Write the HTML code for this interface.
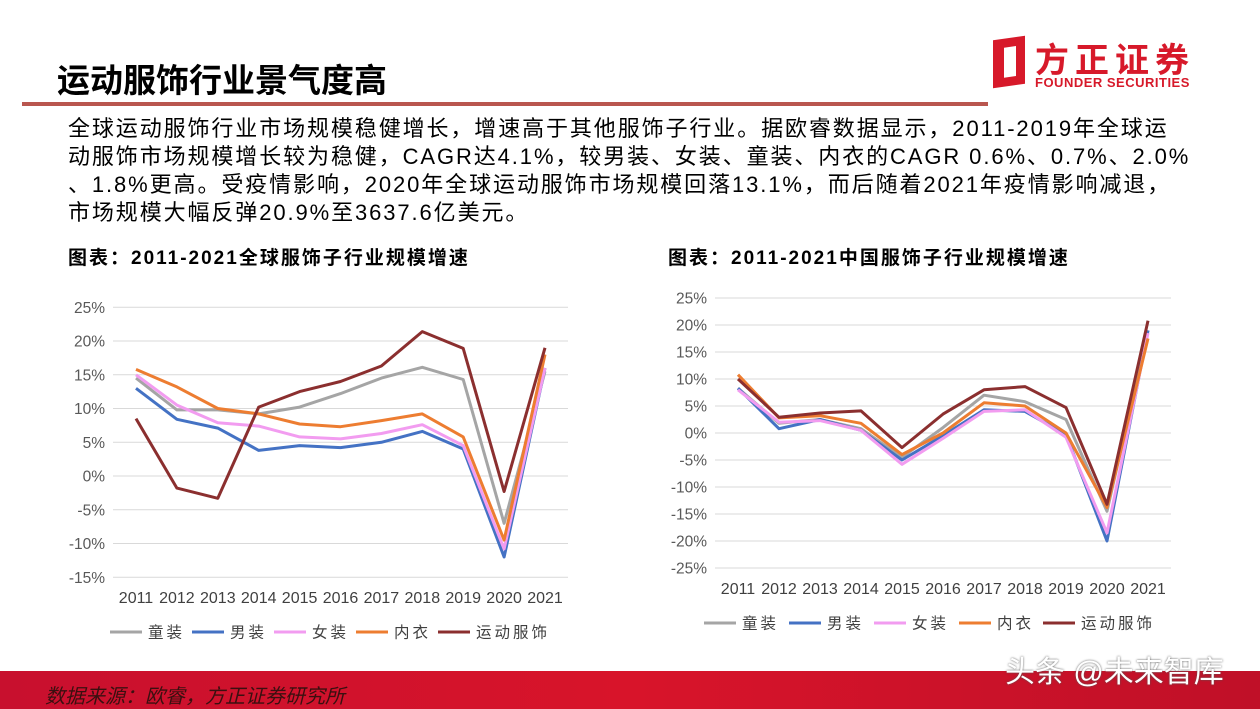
<!DOCTYPE html>
<html><head><meta charset="utf-8"><style>
body{margin:0;width:1260px;height:709px;overflow:hidden;background:#fff;font-family:"Liberation Sans","Noto Sans CJK SC",sans-serif;position:relative}
.t{position:absolute;white-space:nowrap}
</style></head><body>
<div class="t" style="left:57px;top:54px;font-size:33px;font-weight:bold;color:#000;letter-spacing:0px">运动服饰行业景气度高</div>
<div style="position:absolute;left:22px;top:102px;width:966px;height:4px;background:#b9564f"></div>
<div style="position:absolute;left:993px;top:38px;width:32px;height:48px;border:9px solid #d7192a;border-left-width:11px;box-sizing:border-box;transform:skewY(-8deg)"></div>
<div class="t" style="left:1035px;top:33px;font-size:34px;letter-spacing:6px;font-weight:bold;color:#d7192a">方正证券</div>
<div class="t" style="left:1035px;top:75px;font-size:13px;letter-spacing:0.5px;font-weight:bold;color:#d7192a">FOUNDER SECURITIES</div>
<div class="t" style="left:68px;top:115px;font-size:22px;letter-spacing:1.9px;line-height:28px;color:#000">全球运动服饰行业市场规模稳健增长，增速高于其他服饰子行业。据欧睿数据显示，2011-2019年全球运<br>动服饰市场规模增长较为稳健，CAGR达4.1%，较男装、女装、童装、内衣的CAGR 0.6%、0.7%、2.0%<br>、1.8%更高。受疫情影响，2020年全球运动服饰市场规模回落13.1%，而后随着2021年疫情影响减退，<br>市场规模大幅反弹20.9%至3637.6亿美元。</div>
<div class="t" style="left:68px;top:243px;font-size:19px;letter-spacing:2px;font-weight:bold">图表：2011-2021全球服饰子行业规模增速</div>
<div class="t" style="left:668px;top:243px;font-size:19px;letter-spacing:2px;font-weight:bold">图表：2011-2021中国服饰子行业规模增速</div>
<svg id="s" width="1260" height="709" style="position:absolute;left:0;top:0" font-family="Liberation Sans, Noto Sans CJK SC, sans-serif"></svg>
<div style="position:absolute;left:0;top:671px;width:1260px;height:38px;background:linear-gradient(90deg,#c8102e,#d8142a 50%,#c01028)"></div>
<div class="t" style="left:45px;top:680px;font-size:20px;font-style:italic;color:#3a1010">数据来源：欧睿，方正证券研究所</div>
<div class="t" style="left:1005px;top:647px;font-size:30px;color:#fff;text-shadow:0 0 2px #555">头条 @未来智库</div>
<script>
var s=document.getElementById('s'),h='';
var cols=['#a5a5a5','#4472c4','#f29cf0','#ed7d31','#8b2f2f'],names=['童装','男装','女装','内衣','运动服饰'];
function chart(x0,x1,gx0,gx1,y0,ppp,ticks,data,ly,lx){
 ticks.forEach(function(t){var y=y0-t*ppp;h+='<line x1="'+gx0+'" x2="'+gx1+'" y1="'+y+'" y2="'+y+'" stroke="#d9d9d9" stroke-width="1"/>';
 h+='<text x="'+(gx0-8)+'" y="'+(y+5.5)+'" font-size="15.5" fill="#595959" text-anchor="end">'+t+'%</text>';});
 var st=(x1-x0)/10;
 for(var i=0;i<11;i++)h+='<text x="'+(x0+i*st)+'" y="'+(ticks.length>9?594:603)+'" font-size="16" fill="#404040" text-anchor="middle">'+(2011+i)+'</text>';
 data.forEach(function(d,k){var p=d.map(function(v,i){return (x0+i*st).toFixed(1)+','+(y0-v*ppp).toFixed(1)}).join(' ');
 h+='<polyline points="'+p+'" fill="none" stroke="'+cols[k]+'" stroke-width="3" stroke-linejoin="round"/>';});
 names.forEach(function(n,k){var x=lx[k];h+='<line x1="'+x+'" x2="'+(x+32)+'" y1="'+ly+'" y2="'+ly+'" stroke="'+cols[k]+'" stroke-width="3"/>';
 h+='<text x="'+(x+38)+'" y="'+(ly+5.5)+'" font-size="15.5" fill="#404040" letter-spacing="3">'+n+'</text>';});
}
chart(136,545,113,568,476,6.75,[25,20,15,10,5,0,-5,-10,-15],[
[14.5,9.8,9.8,9.2,10.2,12.2,14.5,16.1,14.3,-7,15.5],
[13,8.4,7.1,3.8,4.5,4.2,5,6.6,4,-12,16],
[15,10.5,7.9,7.4,5.8,5.5,6.3,7.6,4.5,-10.8,16],
[15.8,13.2,10,9.2,7.7,7.3,8.2,9.2,5.8,-9.5,18],
[8.5,-1.8,-3.3,10.2,12.5,14,16.3,21.4,18.9,-2.3,19]],632,[110,192,274,356,438]);
chart(738,1148,715,1171,433,5.4,[25,20,15,10,5,0,-5,-10,-15,-20,-25],[
[8.3,1.8,2.5,0.8,-4.5,1,7,5.8,2.5,-14.5,19],
[8.3,0.8,2.5,0.5,-5,-0.5,4.3,4,-0.3,-20,19],
[8,2,2.3,0.5,-5.8,-1,4,4.3,-0.8,-18.5,18.5],
[10.8,2.8,3.2,1.8,-4,0,5.6,5,0,-13.8,17.5],
[10,2.9,3.7,4.1,-2.7,3.5,8,8.6,4.7,-13.2,20.8]],623,[704,789,874,959,1043]);
s.innerHTML=h;
</script>
</body></html>
